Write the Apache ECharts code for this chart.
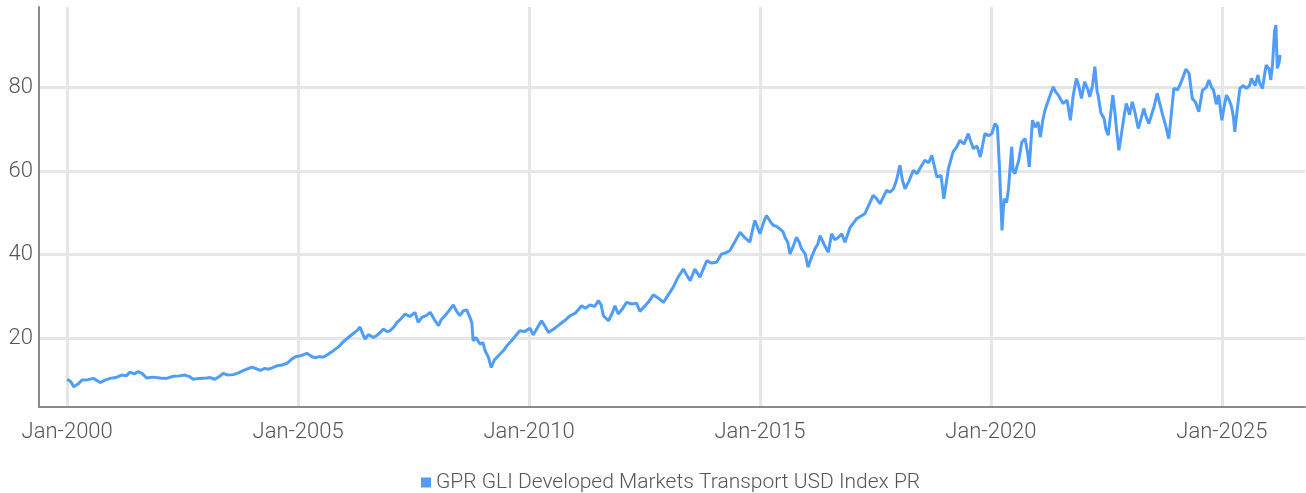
<!DOCTYPE html>
<html>
<head>
<meta charset="utf-8">
<script src="https://cdn.jsdelivr.net/npm/echarts@6/dist/echarts.min.js"></script>
<style>
  html, body { margin: 0; padding: 0; background: #fff; }
  #chart { width: 1306px; height: 493px; }
</style>
</head>
<body>
<div id="chart"></div>
<script>
  // time as decimal years
  const years = [
    2000.00, 2000.08, 2000.14, 2000.25, 2000.32, 2000.45, 2000.57, 2000.71, 2000.82, 2000.93,
    2001.05, 2001.18, 2001.28, 2001.36, 2001.45, 2001.54, 2001.62, 2001.72, 2001.85,
    2002.01, 2002.15, 2002.30, 2002.42, 2002.55, 2002.65, 2002.73, 2002.85,
    2003.02, 2003.10, 2003.20, 2003.30, 2003.38, 2003.48, 2003.60, 2003.72, 2003.82,
    2004.00, 2004.10, 2004.18, 2004.28, 2004.36, 2004.45, 2004.54, 2004.65, 2004.76, 2004.85, 2004.94,
    2005.05, 2005.19, 2005.30, 2005.37, 2005.45, 2005.55, 2005.65, 2005.77, 2005.88, 2005.98,
    2006.10, 2006.20, 2006.28, 2006.34, 2006.40, 2006.45, 2006.52, 2006.63, 2006.72, 2006.85, 2006.92, 2006.99,
    2007.08, 2007.14, 2007.22, 2007.32, 2007.42, 2007.53, 2007.60, 2007.68, 2007.78, 2007.86, 2007.95,
    2008.04, 2008.10, 2008.18, 2008.28, 2008.36, 2008.43, 2008.50, 2008.58, 2008.65, 2008.72, 2008.76, 2008.79, 2008.85, 2008.94,
    2009.00, 2009.05, 2009.12, 2009.18, 2009.25, 2009.35, 2009.44, 2009.52, 2009.62, 2009.70, 2009.80, 2009.90,
    2010.02, 2010.09, 2010.18, 2010.27, 2010.35, 2010.42, 2010.50, 2010.58, 2010.67, 2010.78, 2010.89,
    2011.00, 2011.14, 2011.22, 2011.32, 2011.42, 2011.50, 2011.56, 2011.61, 2011.72, 2011.80, 2011.86, 2011.93,
    2012.02, 2012.11, 2012.22, 2012.33, 2012.40, 2012.48, 2012.58, 2012.69, 2012.80, 2012.91,
    2013.02, 2013.12, 2013.22, 2013.34, 2013.42, 2013.49, 2013.59, 2013.70, 2013.78, 2013.85, 2013.95,
    2014.06, 2014.17, 2014.25, 2014.35, 2014.45, 2014.57, 2014.66, 2014.78, 2014.85, 2014.89,
    2015.00, 2015.08, 2015.14, 2015.22, 2015.29, 2015.36, 2015.43, 2015.50, 2015.54, 2015.60, 2015.65, 2015.72, 2015.79, 2015.85, 2015.90, 2015.98,
    2016.04, 2016.12, 2016.19, 2016.25, 2016.30, 2016.40, 2016.48, 2016.55, 2016.62, 2016.70, 2016.77, 2016.84, 2016.95,
    2017.09, 2017.18, 2017.27, 2017.36, 2017.45, 2017.52, 2017.60, 2017.67, 2017.74, 2017.82, 2017.89, 2017.96,
    2018.03, 2018.08, 2018.14, 2018.22, 2018.32, 2018.40, 2018.48, 2018.57, 2018.65, 2018.72, 2018.78, 2018.83, 2018.92, 2018.98,
    2019.03, 2019.08, 2019.18, 2019.26, 2019.33, 2019.42, 2019.51, 2019.56, 2019.62, 2019.70, 2019.77, 2019.87, 2019.95,
    2020.02, 2020.09, 2020.11, 2020.14, 2020.18, 2020.20, 2020.24, 2020.27, 2020.29, 2020.34, 2020.38, 2020.45, 2020.48, 2020.52, 2020.60, 2020.67, 2020.74, 2020.80, 2020.83, 2020.90, 2020.96,
    2021.02, 2021.07, 2021.12, 2021.17, 2021.26, 2021.35, 2021.40, 2021.46, 2021.56, 2021.65, 2021.72, 2021.78, 2021.85, 2021.90, 2021.96,
    2022.03, 2022.10, 2022.14, 2022.20, 2022.25, 2022.30, 2022.32, 2022.38, 2022.45, 2022.49, 2022.54, 2022.58, 2022.64, 2022.68, 2022.72, 2022.77, 2022.82, 2022.88, 2022.93,
    2023.00, 2023.06, 2023.12, 2023.19, 2023.25, 2023.31, 2023.36, 2023.42, 2023.53, 2023.60, 2023.66, 2023.71, 2023.78, 2023.85, 2023.90, 2023.96,
    2024.04, 2024.09, 2024.16, 2024.22, 2024.29, 2024.36, 2024.43, 2024.50, 2024.58, 2024.66, 2024.72, 2024.78, 2024.82, 2024.88, 2024.93,
    2025.00, 2025.05, 2025.10, 2025.16, 2025.21, 2025.25, 2025.28, 2025.33, 2025.39, 2025.46, 2025.53, 2025.60, 2025.64, 2025.72, 2025.78, 2025.82, 2025.88, 2025.93, 2025.96,
    2026.02, 2026.06, 2026.10, 2026.14, 2026.17, 2026.20, 2026.24, 2026.26
  ]

  const indexValues = [
    10.2, 9.6, 8.4, 9.2, 10.0, 10.1, 10.4, 9.4, 10.0, 10.4,
    10.6, 11.2, 11.0, 11.9, 11.5, 12.0, 11.6, 10.5, 10.7,
    10.5, 10.4, 10.9, 11.0, 11.2, 10.8, 10.2, 10.4,
    10.5, 10.6, 10.2, 10.9, 11.6, 11.2, 11.3, 11.8, 12.3,
    13.1, 12.7, 12.3, 12.8, 12.6, 13.0, 13.4, 13.6, 14.0, 14.9, 15.6,
    15.8, 16.4, 15.6, 15.3, 15.6, 15.5, 16.2, 17.1, 18.0, 19.2,
    20.3, 21.2, 21.9, 22.7, 21.0, 19.8, 20.9, 20.2, 20.8, 22.2, 21.6, 21.8,
    22.8, 23.8, 24.6, 25.8, 25.2, 26.2, 23.8, 25.0, 25.5, 26.2, 24.5,
    23.0, 24.5, 25.4, 26.8, 28.0, 26.5, 25.4, 26.6, 26.8, 25.0, 23.8, 19.4, 20.2, 18.6,
    19.0, 17.0, 15.5, 13.0, 14.8, 16.0, 17.0, 18.2, 19.4, 20.5, 21.8, 21.6,
    22.4, 20.8, 22.5, 24.2, 22.8, 21.4, 22.0, 22.6, 23.4, 24.3, 25.4,
    26.0, 27.8, 27.2, 28.0, 27.6, 29.0, 28.0, 25.4, 24.2, 26.0, 27.8, 25.8,
    27.0, 28.6, 28.2, 28.4, 26.4, 27.4, 28.6, 30.4, 29.6, 28.6,
    30.5, 32.2, 34.5, 36.6, 35.0, 33.8, 36.6, 34.6, 36.8, 38.6, 38.0,
    38.2, 40.2, 40.4, 41.0, 43.0, 45.4, 44.2, 43.0, 46.5, 48.2,
    45.0, 47.8, 49.4, 48.0, 47.0, 46.8, 46.2, 45.5, 44.2, 43.0, 40.2, 42.0, 44.2, 43.0, 41.4, 40.2,
    37.0, 39.5, 41.4, 42.5, 44.6, 42.2, 40.6, 45.0, 43.6, 44.2, 45.0, 43.0, 46.5,
    48.6, 49.2, 49.8, 52.0, 54.2, 53.5, 52.2, 53.8, 55.4, 55.0, 55.8, 58.0,
    61.4, 58.0, 55.8, 57.5, 60.2, 59.4, 61.0, 62.6, 62.0, 63.8, 61.0, 58.6, 59.0, 53.4,
    57.0, 60.6, 64.6, 65.8, 67.4, 66.5, 69.0, 67.2, 65.4, 66.0, 63.4, 69.0, 68.5,
    69.0, 71.4, 71.0, 70.6, 62.0, 56.6, 45.8, 51.0, 53.4, 52.5, 55.8, 65.8, 60.0, 59.4, 62.5, 67.0, 67.8, 64.0, 61.0, 72.2, 70.5,
    71.8, 68.2, 72.0, 74.6, 77.5, 80.2, 79.0, 78.2, 76.2, 77.0, 72.2, 78.0, 82.2, 80.5, 77.4,
    81.4, 79.5, 77.8, 80.5, 85.0, 79.0, 78.2, 74.0, 72.6, 70.0, 68.6, 72.5, 78.2, 74.5, 70.0, 65.0, 68.5, 73.0, 76.2,
    73.5, 76.6, 74.0, 70.2, 72.5, 75.0, 73.0, 71.4, 75.4, 78.6, 76.0, 73.8, 71.0, 67.8, 73.0, 79.8,
    79.5, 80.6, 82.5, 84.4, 83.4, 77.4, 76.5, 74.2, 79.4, 80.0, 81.8, 80.0, 79.4, 76.0, 78.2,
    72.2, 75.5, 78.2, 77.0, 75.4, 73.0, 69.4, 74.5, 79.8, 80.5, 79.8, 80.5, 82.2, 80.5, 83.0, 81.0, 79.8, 83.5, 85.4,
    84.5, 81.8, 86.0, 93.4, 95.0, 84.6, 86.0, 87.8
  ]

  const xTicks = [2000, 2005, 2010, 2015, 2020, 2025]
  const yTicks = [20, 40, 60, 80]
  const seriesName = 'GPR GLI Developed Markets Transport USD Index PR'

  const font = 'Roboto, sans-serif'

  let myChart = echarts.init(document.getElementById('chart'))
  myChart.setOption({
    animation: false,
    grid: {
      left: 39,
      right: 1,
      top: 7,
      bottom: 86,
      containLabel: false
    },
    legend: {
      data: [{ name: seriesName, icon: 'rect' }],
      left: 416,
      top: 467,
      itemWidth: 10,
      itemHeight: 10,
      itemGap: 5,
      textStyle: {
        fontFamily: font,
        fontSize: 21,
        fontWeight: 300,
        color: '#555'
      }
    },
    xAxis: {
      type: 'value',
      min: 1999.39,
      max: 2026.8,
      axisLine: { lineStyle: { color: '#8a8a8a', width: 2 } },
      axisTick: { show: false, customValues: xTicks },
      axisLabel: {
        customValues: xTicks,
        margin: 14,
        fontFamily: font,
        fontSize: 22,
        fontWeight: 300,
        color: '#555',
        formatter: v => 'Jan-' + Math.round(v)
      },
      splitLine: { show: true, lineStyle: { color: '#e6e6e6', width: 3 } }
    },
    yAxis: {
      type: 'value',
      min: 3.55,
      max: 99.3,
      axisLine: { show: true, lineStyle: { color: '#8a8a8a', width: 2 } },
      axisTick: { show: false, customValues: yTicks },
      axisLabel: {
        customValues: yTicks,
        margin: 6,
        fontFamily: font,
        fontSize: 22,
        fontWeight: 300,
        color: '#555'
      },
      splitLine: { show: true, lineStyle: { color: '#e6e6e6', width: 3 } }
    },
    series: [
      {
        name: seriesName,
        type: 'line',
        data: years.map((y, i) => [y, indexValues[i]]),
        showSymbol: false,
        lineStyle: { color: '#4f9cf9', width: 3 },
        itemStyle: { color: '#4f9cf9' }
      }
    ]
  })
</script>
</body>
</html>
